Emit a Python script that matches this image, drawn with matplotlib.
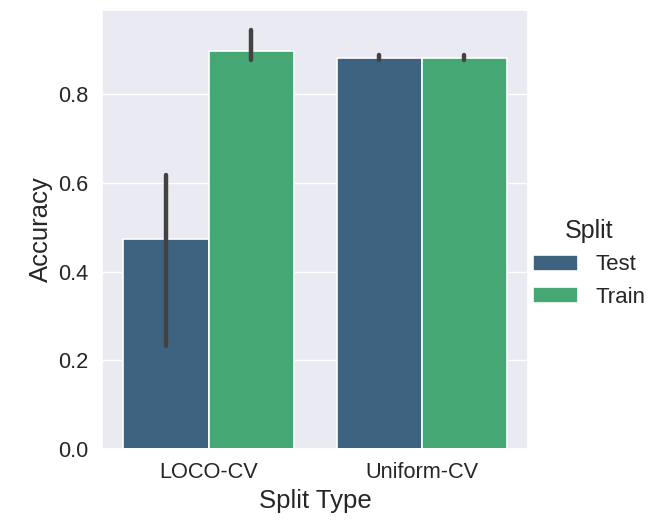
import matplotlib.pyplot as plt
import numpy as np
import seaborn as sns

# Accuracy by split type (mean with CI range)
split_types = ['LOCO-CV', 'Uniform-CV']
splits = ['Test', 'Train']
means = {'Test': [0.474, 0.882], 'Train': [0.898, 0.882]}
ci_low = {'Test': [0.232, 0.878], 'Train': [0.878, 0.878]}
ci_high = {'Test': [0.617, 0.888], 'Train': [0.946, 0.888]}

sns.set_theme(style='darkgrid')
plt.rcParams['font.family'] = ['Liberation Sans', 'DejaVu Sans']

colors = ['#3d6381', '#45a874']

fig = plt.figure(figsize=(6.58, 5.27), dpi=100)
ax = fig.add_axes([0.155, 0.148, 0.648, 0.833])

x = np.arange(len(split_types))
width = 0.4
handles = []
for i, s in enumerate(splits):
    pos = x - width / 2 + i * width
    bars = ax.bar(pos, means[s], width=width, color=colors[i],
                  edgecolor='white', linewidth=1.2, label=s)
    handles.append(bars)
    for p, lo, hi in zip(pos, ci_low[s], ci_high[s]):
        ax.plot([p, p], [lo, hi], color='#424242', linewidth=3.2,
                solid_capstyle='round', zorder=3)

ax.set_xlim(-0.5, 1.5)
ax.set_ylim(0, 0.99)
ax.set_xticks(x)
ax.set_xticklabels(split_types)
ax.set_yticks([0, 0.2, 0.4, 0.6, 0.8])
ax.grid(axis='x', visible=False)
ax.tick_params(labelsize=15.7)
ax.set_xlabel('Split Type', fontsize=18.5)
ax.set_ylabel('Accuracy', fontsize=18.5)

fig.legend(handles=handles, labels=splits, title='Split', loc='center left',
           bbox_to_anchor=(0.78, 0.5), frameon=False, fontsize=16,
           title_fontsize=18)

fig.savefig('out.png', dpi=100)
